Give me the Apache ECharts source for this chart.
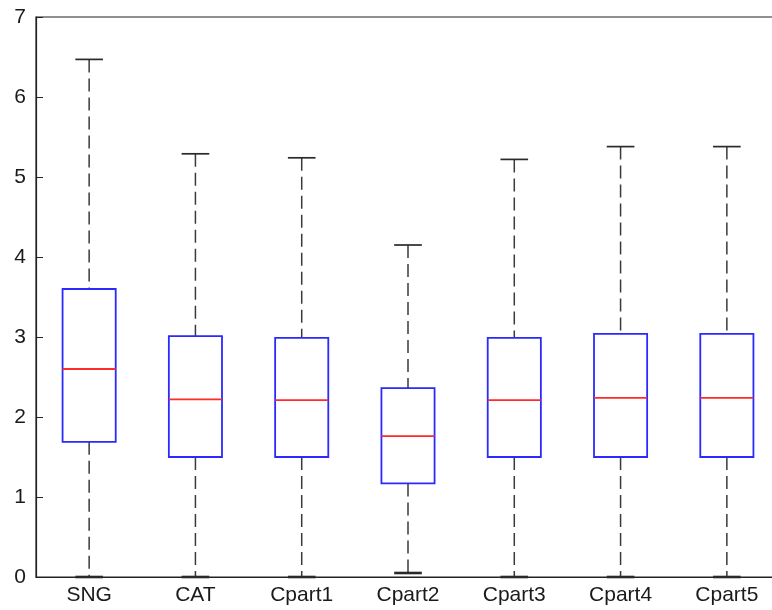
<!DOCTYPE html>
<html>
<head>
<meta charset="utf-8">
<style>
  html, body { margin: 0; padding: 0; background: #ffffff; }
  #chart { width: 772px; height: 610px; }
</style>
<script src="https://cdn.jsdelivr.net/npm/echarts@6/dist/echarts.min.js"></script>
</head>
<body>
<div id="chart"></div>
<script>
// Box plot summary per group: lower whisker, first quartile, median, third quartile, upper whisker
const categories = ['SNG', 'CAT', 'Cpart1', 'Cpart2', 'Cpart3', 'Cpart4', 'Cpart5'];
const whiskerLow  = [0.00, 0.00, 0.00, 0.05, 0.00, 0.00, 0.00];
const quartile1   = [1.69, 1.50, 1.50, 1.17, 1.50, 1.50, 1.50];
const medians     = [2.60, 2.22, 2.21, 1.76, 2.21, 2.24, 2.24];
const quartile3   = [3.60, 3.01, 2.99, 2.36, 2.99, 3.04, 3.04];
const whiskerHigh = [6.47, 5.29, 5.24, 4.15, 5.22, 5.38, 5.38];
const yTicks = [0, 1, 2, 3, 4, 5, 6, 7];

const rows = categories.map((c, i) => [i, whiskerLow[i], quartile1[i], medians[i], quartile3[i], whiskerHigh[i]]);

const FONT = '"Liberation Sans", Arial, sans-serif';

function renderBox(params, api) {
  const idx = api.value(0);
  const band = api.size([1, 0])[0];
  const pLow = api.coord([idx, api.value(1)]);
  const pQ1 = api.coord([idx, api.value(2)]);
  const pMed = api.coord([idx, api.value(3)]);
  const pQ3 = api.coord([idx, api.value(4)]);
  const pHigh = api.coord([idx, api.value(5)]);
  const x = pQ1[0];
  const boxHalf = band * 0.25;
  const capHalf = band * 0.13;
  const whiskerStyle = { stroke: '#3a3a3a', lineWidth: 1.5, lineDash: [13, 6], fill: null };
  const capStyle = { stroke: '#2a2a2a', lineWidth: 1.7, fill: null };
  return {
    type: 'group',
    children: [
      { type: 'line', shape: { x1: x, y1: pHigh[1], x2: x, y2: pQ3[1] }, style: whiskerStyle },
      { type: 'line', shape: { x1: x, y1: pQ1[1], x2: x, y2: pLow[1] }, style: whiskerStyle },
      { type: 'line', shape: { x1: x - capHalf, y1: pHigh[1], x2: x + capHalf, y2: pHigh[1] }, style: capStyle },
      { type: 'line', shape: { x1: x - capHalf, y1: pLow[1], x2: x + capHalf, y2: pLow[1] }, style: Object.assign({}, capStyle, { lineWidth: 2.6 }) },
      { type: 'rect', shape: { x: x - boxHalf, y: pQ3[1], width: boxHalf * 2, height: pQ1[1] - pQ3[1] },
        style: { stroke: '#2a2aff', lineWidth: 1.8, fill: null } },
      { type: 'line', shape: { x1: x - boxHalf, y1: pMed[1], x2: x + boxHalf, y2: pMed[1] },
        style: { stroke: '#ff2a2a', lineWidth: 1.8 } }
    ]
  };
}

const chart = echarts.init(document.getElementById('chart'), null, { renderer: 'canvas' });
chart.setOption({
  backgroundColor: '#ffffff',
  animation: false,
  grid: {
    left: 36, top: 17, width: 744, height: 560,
    outerBoundsMode: 'none',
    containLabel: false,
    show: true, borderColor: '#222222', borderWidth: 1.2, backgroundColor: 'transparent'
  },
  xAxis: {
    type: 'category',
    data: categories,
    boundaryGap: true,
    axisLine: { lineStyle: { color: '#222222', width: 1.2 } },
    axisTick: { show: false },
    axisLabel: { color: '#1a1a1a', fontSize: 21, fontFamily: FONT, margin: 8, interval: 0 },
    splitLine: { show: false }
  },
  yAxis: [
    {
      type: 'value',
      min: yTicks[0], max: yTicks[yTicks.length - 1], interval: 1,
      axisLine: { show: true, lineStyle: { color: '#222222', width: 1.2 } },
      axisTick: { show: true, inside: true, length: 7, lineStyle: { color: '#222222' } },
      axisLabel: { color: '#1a1a1a', fontSize: 21, fontFamily: FONT, margin: 10 },
      splitLine: { show: false }
    },
    {
      type: 'value', position: 'right',
      min: yTicks[0], max: yTicks[yTicks.length - 1], interval: 1,
      axisLine: { show: true, lineStyle: { color: '#222222' } },
      axisTick: { show: true, inside: true, length: 8, lineStyle: { color: '#222222' } },
      axisLabel: { show: false },
      splitLine: { show: false }
    }
  ],
  series: [{
    type: 'custom',
    renderItem: renderBox,
    data: rows,
    encode: { x: 0, y: [1, 2, 3, 4, 5] },
    z: 10,
    silent: true
  }]
});
</script>
</body>
</html>
